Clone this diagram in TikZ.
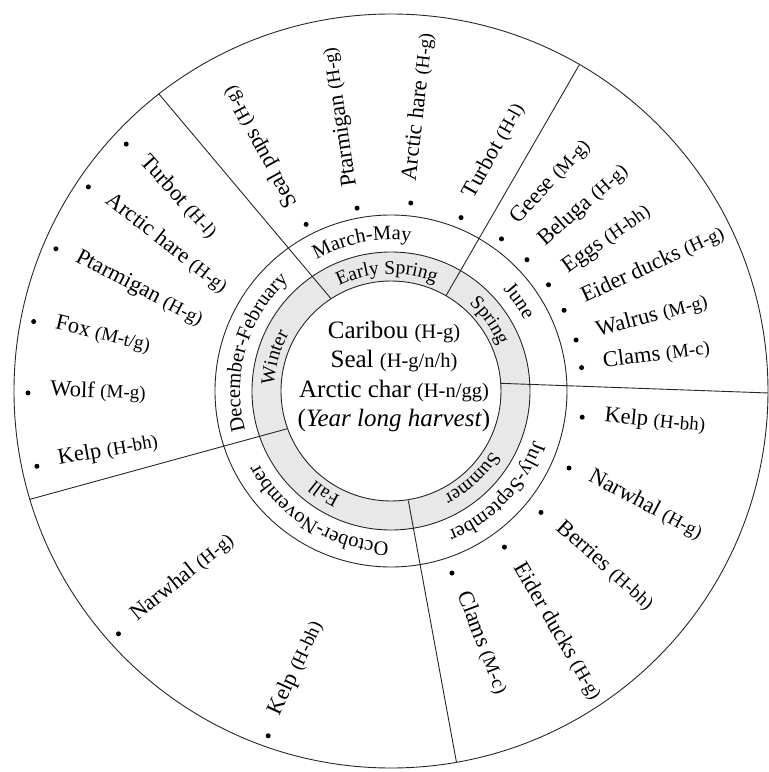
\documentclass[tikz,border=0pt]{standalone}
\usepackage{fontspec}
\setmainfont{Liberation Serif}
\usetikzlibrary{calc,decorations.text}
\newcommand\itemfnt{\fontsize{22.5}{26}\selectfont}
\newcommand\smfnt{\fontsize{19}{22}\selectfont}
\newcommand\bigfnt{\fontsize{25}{29}\selectfont}
\newcommand\bigsmfnt{\fontsize{20.5}{24}\selectfont}
\newcommand\monthfnt{\fontsize{20.5}{24}\selectfont}
\newcommand\seasonfnt{\fontsize{19.5}{23}\selectfont}
% name, bullet angle, bullet radius, text angle, main text, small text
\newcommand\harv[6]{%
  \fill[black] (#2:#3) circle[radius=2.5];
  \node[itemtxt, rotate=#4] (#1) at ($(#2:#3)+(#4:22)$) {#5 {\smfnt #6}};
}
% start angle, end angle (clockwise), baseline radius, text
\newcommand\ringlbl[4]{%
  \path[decorate, decoration={text along path, text align=center, text={#4}}]
    (#1:#3) arc[start angle=#1, end angle=#2, radius=#3];
}
\begin{document}
\begin{tikzpicture}[x=1pt, y=1pt,
  ringline/.style={line width=0.9pt, draw=black!85},
  itemtxt/.style={inner sep=0pt, anchor=mid west, font=\itemfnt},
  ctrtxt/.style={inner sep=0pt, anchor=base, font=\bigfnt}]
\useasboundingbox (-391,-381) rectangle (378,391);
% grey season band
\fill[black!9, even odd rule] (0,0) circle[radius=139] (0,0) circle[radius=110];
% circles
\draw[ringline] (0,0) circle[radius=110];
\draw[ringline] (0,0) circle[radius=139];
\draw[ringline] (0,0) circle[radius=176];
\draw[ringline] (0,0) circle[radius=377];
% sector dividers
\coordinate (a1) at (123:110); \coordinate (b1) at (128:377);
\coordinate (a2) at (60:110);  \coordinate (b2) at (60:377);
\coordinate (a3) at (4:110);   \coordinate (b3) at (-0.3:377);
\coordinate (a4) at (-81:111); \coordinate (b4) at (-80:377);
\coordinate (a5) at (200:110); \coordinate (b5) at (196.7:377);
\draw[ringline] (a1) -- (b1);
\draw[ringline] (a2) -- (b2);
\draw[ringline] (a3) -- (b3);
\draw[ringline] (a4) -- (b4);
\draw[ringline] (a5) -- (b5);
% season labels
\ringlbl{214}{114}{117}{|\seasonfnt|Winter}
\ringlbl{142}{42}{117}{|\seasonfnt|Early Spring}
\ringlbl{76}{-5}{117}{|\seasonfnt|Spring}
\ringlbl{-7}{-87}{117}{|\seasonfnt|Summer}
\ringlbl{277}{197}{117}{|\seasonfnt|Fall}
% month labels
\ringlbl{224}{104}{151}{|\monthfnt|December-February}
\ringlbl{161}{41}{151}{|\monthfnt|March-May}
\ringlbl{75}{-5}{151}{|\monthfnt|June}
\ringlbl{17}{-104}{151}{|\monthfnt|July-September}
\ringlbl{299}{179}{151}{|\monthfnt|October-November}
% centre
\node[ctrtxt] (c1) at (3,53) {Caribou {\bigsmfnt (H-g)}};
\node[ctrtxt] (c2) at (3,24) {Seal {\bigsmfnt (H-g/n/h)}};
\node[ctrtxt] (c3) at (3,-6) {Arctic char {\bigsmfnt (H-n/gg)}};
\node[ctrtxt] (c4) at (3,-35) {(\textit{Year long harvest})};
% December-February
\harv{t1}{137}{362}{-48}{Turbot}{(H-l)}
\harv{t2}{146}{365}{-38}{Arctic hare}{(H-g)}
\harv{t3}{157}{364}{-27.5}{Ptarmigan}{(H-g)}
\harv{t4}{169}{364}{-13.5}{Fox}{(M-t/g)}
\harv{t5}{180.3}{363}{-2}{Wolf}{(M-g)}
\harv{t6}{192}{362}{10}{Kelp}{(H-bh)}
% March-May
\harv{m1}{117}{187}{118.5}{Seal pups}{(H-g)}
\harv{m2}{100.5}{186}{98.5}{Ptarmigan}{(H-g)}
\harv{m3}{84}{189}{83.5}{Arctic hare}{(H-g)}
\harv{m4}{68}{187}{61}{Turbot}{(H-l)}
% June
\harv{j1}{54}{188}{47}{Geese}{(M-g)}
\harv{j2}{44}{189}{41.5}{Beluga}{(H-g)}
\harv{j3}{34}{190}{35.5}{Eggs}{(H-bh)}
\harv{j4}{25}{191}{25}{Eider ducks}{(H-g)}
\harv{j5}{15.4}{192}{15}{Walrus}{(M-g)}
\harv{j6}{7}{192}{7}{Clams}{(M-c)}
% July-September
\harv{s1}{-7.8}{193}{-5.6}{Kelp}{(H-bh)}
\harv{s2}{-23.4}{194}{-28}{Narwhal}{(H-g)}
\harv{s3}{-39}{193}{-42}{Berries}{(H-bh)}
\harv{s4}{-54}{193}{-59.7}{Eider ducks}{(H-g)}
\harv{s5}{-71.5}{192}{-69}{Clams}{(M-c)}
% October-November
\harv{o1}{221.7}{365}{39}{Narwhal}{(H-g)}
\harv{o2}{250.4}{366}{65}{Kelp}{(H-bh)}
\end{tikzpicture}
\end{document}
